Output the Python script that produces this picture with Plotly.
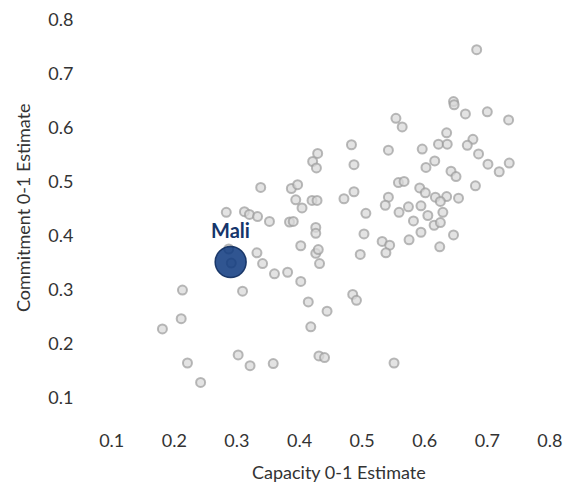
import plotly.graph_objects as go

# Capacity (x) and Commitment (y) estimates for all countries (grey points)
capacity = [
    0.483, 0.429, 0.421, 0.427, 0.487, 0.338, 0.387, 0.397, 0.487, 0.471,
    0.394, 0.420, 0.428, 0.404, 0.283, 0.312, 0.320, 0.506, 0.333, 0.352,
    0.384, 0.390, 0.426, 0.426, 0.503, 0.402, 0.426, 0.430, 0.497, 0.332,
    0.341, 0.432, 0.360, 0.381, 0.402, 0.287, 0.291, 0.213, 0.309, 0.485,
    0.491, 0.414, 0.444, 0.211, 0.181, 0.418, 0.302, 0.221, 0.321, 0.358,
    0.431, 0.440, 0.242, 0.683, 0.646, 0.647, 0.665, 0.700, 0.734, 0.554,
    0.564, 0.635, 0.622, 0.636, 0.677, 0.668, 0.542, 0.596, 0.686, 0.616,
    0.602, 0.701, 0.735, 0.719, 0.642, 0.650, 0.558, 0.567, 0.681, 0.592,
    0.601, 0.542, 0.617, 0.635, 0.625, 0.654, 0.537, 0.574, 0.594, 0.559,
    0.629, 0.605, 0.582, 0.615, 0.625, 0.594, 0.646, 0.532, 0.544, 0.575,
    0.538, 0.624, 0.551,
]
commitment = [
    0.569, 0.553, 0.538, 0.526, 0.532, 0.490, 0.488, 0.495, 0.482, 0.469,
    0.467, 0.466, 0.466, 0.452, 0.444, 0.445, 0.440, 0.442, 0.436, 0.427,
    0.426, 0.427, 0.416, 0.405, 0.404, 0.382, 0.368, 0.375, 0.366, 0.369,
    0.349, 0.349, 0.330, 0.333, 0.316, 0.376, 0.350, 0.300, 0.298, 0.292,
    0.281, 0.278, 0.261, 0.247, 0.228, 0.232, 0.180, 0.165, 0.160, 0.164,
    0.178, 0.175, 0.129, 0.745, 0.649, 0.643, 0.626, 0.630, 0.615, 0.618,
    0.602, 0.591, 0.570, 0.570, 0.579, 0.568, 0.559, 0.561, 0.552, 0.539,
    0.527, 0.533, 0.535, 0.519, 0.520, 0.510, 0.499, 0.501, 0.493, 0.489,
    0.480, 0.472, 0.472, 0.473, 0.464, 0.470, 0.457, 0.454, 0.456, 0.444,
    0.444, 0.438, 0.428, 0.420, 0.425, 0.407, 0.402, 0.390, 0.383, 0.393,
    0.369, 0.380, 0.165,
]

highlight_name = ["Mali"]
highlight_capacity = [0.290]
highlight_commitment = [0.352]

tick_values = [0.1, 0.2, 0.3, 0.4, 0.5, 0.6, 0.7, 0.8]
tick_labels = ["0.1", "0.2", "0.3", "0.4", "0.5", "0.6", "0.7", "0.8"]

FONT = "Lato, 'Open Sans', sans-serif"
TEXT = "#333333"

fig = go.Figure()
fig.add_trace(go.Scatter(
    x=capacity, y=commitment, mode="markers",
    marker=dict(size=9, color="rgba(218,218,218,0.75)",
                line=dict(color="rgba(155,155,155,0.7)", width=2)),
    hoverinfo="x+y", showlegend=False,
))
fig.add_trace(go.Scatter(
    x=highlight_capacity, y=highlight_commitment, mode="markers",
    marker=dict(size=31, color="rgba(12,55,126,0.85)",
                line=dict(color="rgba(15,45,95,0.9)", width=1.5)),
    text=highlight_name, hoverinfo="text", showlegend=False,
))

fig.add_annotation(
    x=highlight_capacity[0], y=highlight_commitment[0], text="<b>Mali</b>",
    showarrow=False, yshift=32, xshift=0, xanchor="center", yanchor="middle",
    font=dict(family=FONT, size=20, color="#15356b"),
)
fig.add_annotation(
    x=0.5196, y=-0.1567, xref="paper", yref="paper", text="Capacity 0-1 Estimate",
    showarrow=False, xanchor="center", yanchor="middle",
    font=dict(family=FONT, size=18, color=TEXT),
)
fig.add_annotation(
    x=-0.1674, y=0.51, xref="paper", yref="paper", text="Commitment 0-1 Estimate",
    showarrow=False, textangle=-90, xanchor="center", yanchor="middle",
    font=dict(family=FONT, size=18, color=TEXT),
)

fig.update_layout(
    width=579, height=489,
    margin=dict(l=92, r=27, t=0, b=87),
    paper_bgcolor="white", plot_bgcolor="white",
    font=dict(family=FONT, size=18, color=TEXT),
    xaxis=dict(range=[0.0813, 0.8161], tickvals=tick_values, ticktext=tick_labels,
               showgrid=False, zeroline=False, showline=False,
               ticks="outside", ticklen=14, tickcolor="rgba(0,0,0,0)",
               ticklabeloverflow="allow"),
    yaxis=dict(range=[0.0780, 0.8147], tickvals=tick_values, ticktext=tick_labels,
               showgrid=False, zeroline=False, showline=False,
               ticks="outside", ticklen=22, tickcolor="rgba(0,0,0,0)",
               ticklabeloverflow="allow"),
)

fig.write_html("out.html")
